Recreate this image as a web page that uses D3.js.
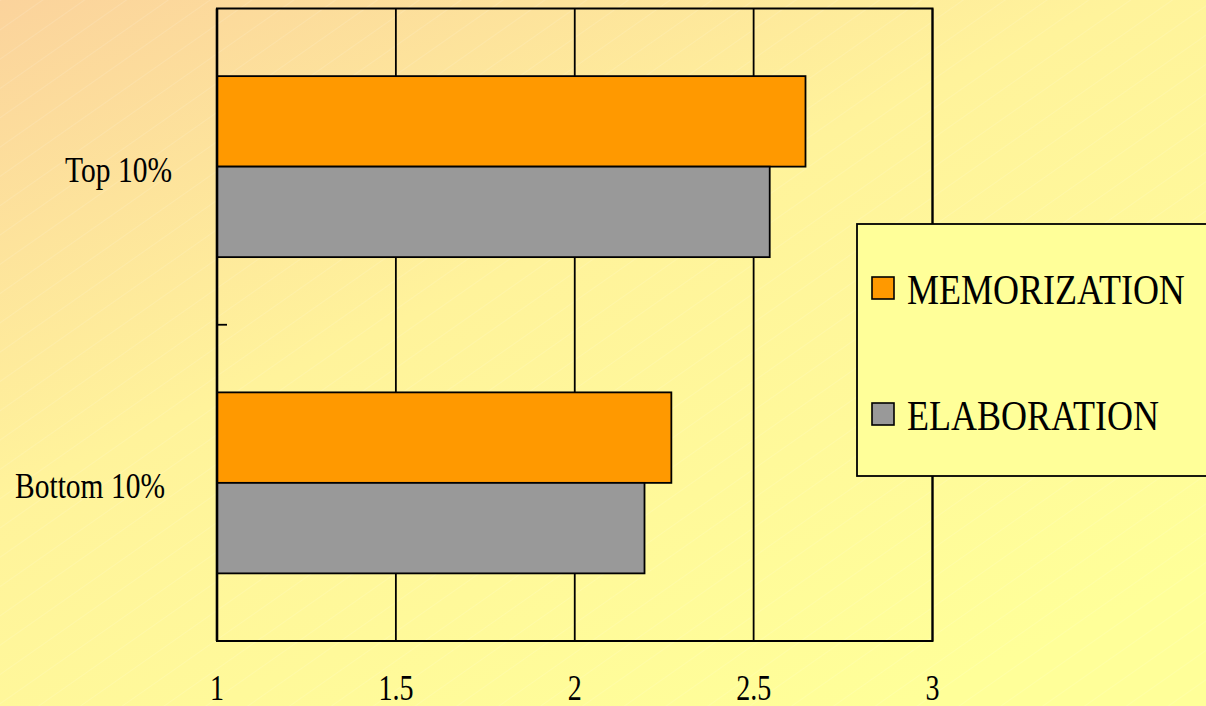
<!DOCTYPE html>
<html><head><meta charset="utf-8">
<script src="https://cdn.jsdelivr.net/npm/d3@7"></script>
<style>html,body{margin:0;padding:0;overflow:hidden;background:#fff8a0}</style>
</head><body>
<script>
const categories = ["Top 10%", "Bottom 10%"];
const seriesNames = ["MEMORIZATION", "ELABORATION"];
const memorization = [2.645, 2.27];
const elaboration = [2.545, 2.195];
const xTicks = [1, 1.5, 2, 2.5, 3];
const colors = ["#ff9900", "#999999"];

(function(){
const W = 1206, H = 706;
const svg = d3.select("body").append("svg").attr("width", W).attr("height", H);
const defs = svg.append("defs");
const g1 = defs.append("linearGradient").attr("id","bg")
  .attr("x1","0").attr("y1","0").attr("x2","0.75").attr("y2","1");
g1.append("stop").attr("offset","0").attr("stop-color","#fbd39c");
g1.append("stop").attr("offset","0.45").attr("stop-color","#fff39b");
g1.append("stop").attr("offset","1").attr("stop-color","#ffff99");
const pat = defs.append("pattern").attr("id","lines").attr("patternUnits","userSpaceOnUse")
  .attr("width",24).attr("height",24).attr("patternTransform","rotate(-35)");
pat.append("line").attr("x1",0).attr("y1",0).attr("x2",24).attr("y2",0)
  .attr("stroke","#ffffff").attr("stroke-opacity",0.25).attr("stroke-width",1);
svg.append("rect").attr("width",W).attr("height",H).attr("fill","url(#bg)");
svg.append("rect").attr("width",W).attr("height",H).attr("fill","url(#lines)");

const pL = 217, pR = 932.5, pT = 8.5, pB = 641;
const x = d3.scaleLinear().domain([1, 3]).range([pL, pR]);
const y = d3.scaleBand().domain(categories).range([pT, pB]).paddingInner(0).paddingOuter(0);
const inner = d3.scaleBand().domain(seriesNames).range([0, 181]);
const off = (y.bandwidth() - 181) / 2;

// gridlines
svg.append("g").selectAll("line").data(xTicks.slice(1)).join("line")
  .attr("x1", d => x(d)).attr("x2", d => x(d)).attr("y1", pT).attr("y2", pB)
  .attr("stroke","#000").attr("stroke-width",1.8);

// bars
const data = categories.map((c,i) => ({cat:c, vals:[memorization[i], elaboration[i]]}));
const grp = svg.append("g").selectAll("g").data(data).join("g")
  .attr("transform", d => `translate(0,${y(d.cat) + off})`);
grp.selectAll("rect").data(d => d.vals.map((v,j)=>({v, s:seriesNames[j], j}))).join("rect")
  .attr("x", x(1)).attr("y", d => inner(d.s)).attr("width", d => x(d.v) - x(1))
  .attr("height", inner.bandwidth()).attr("fill", d => colors[d.j])
  .attr("stroke","#000").attr("stroke-width",1.8);

// frame
svg.append("rect").attr("x",pL).attr("y",pT).attr("width",pR-pL).attr("height",pB-pT)
  .attr("fill","none").attr("stroke","#000").attr("stroke-width",2);
svg.append("line").attr("x1",pL).attr("x2",pL).attr("y1",pT).attr("y2",pB)
  .attr("stroke","#000").attr("stroke-width",2.6);

// category boundary tick
svg.append("g").selectAll("line").data(categories.slice(1)).join("line")
  .attr("x1", pL).attr("x2", pL + 10).attr("y1", d => y(d)).attr("y2", d => y(d))
  .attr("stroke","#000").attr("stroke-width",1.8);

const font = "'Liberation Serif','Times New Roman',serif";
// category labels
const labelRight = [172, 165];
svg.append("g").selectAll("text").data(categories).join("text")
  .attr("transform", (d,i) => `translate(${labelRight[i]},${y(d) + y.bandwidth()/2 + 15}) scale(1,1.2)`)
  .attr("text-anchor","end").attr("font-family",font).attr("font-size",29.5).attr("fill","#000")
  .text(d => d);

// x tick labels
svg.append("g").selectAll("text").data(xTicks).join("text")
  .attr("transform", d => `translate(${x(d)},700) scale(1,1.25)`)
  .attr("text-anchor","middle").attr("font-family",font).attr("font-size",28).attr("fill","#000")
  .text(d => d);

// legend
const lg = svg.append("g");
lg.append("rect").attr("x",857).attr("y",224).attr("width",360).attr("height",252)
  .attr("fill","#ffff99").attr("stroke","#000").attr("stroke-width",1.8);
const ly = [277, 403];
seriesNames.forEach((s,i) => {
  lg.append("rect").attr("x",872).attr("y",ly[i]).attr("width",22).attr("height",22)
    .attr("fill",colors[i]).attr("stroke","#000").attr("stroke-width",1.6);
  lg.append("text").attr("transform",`translate(907,${ly[i]+27}) scale(1,1.16)`)
    .attr("font-family",font).attr("font-size",36).attr("fill","#000").text(s);
});
})();
</script>
</body></html>
